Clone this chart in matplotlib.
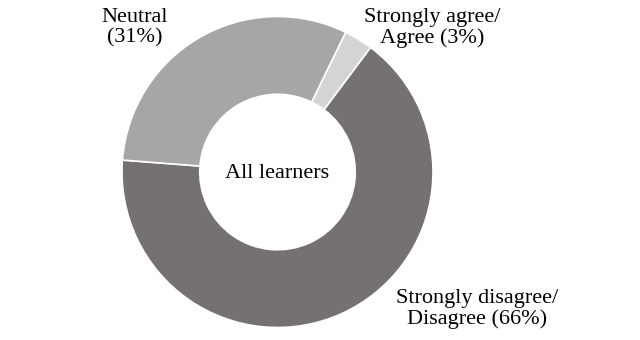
import matplotlib
matplotlib.use("Agg")
import matplotlib.pyplot as plt

# share of learners per response group (clockwise from the top right)
categories = ["Strongly agree/\nAgree", "Strongly disagree/\nDisagree", "Neutral\n"]
shares = [3, 66, 31]
colors = ["#d4d4d4", "#767171", "#a6a6a6"]

# where each label sits, in pie-radius units
label_pos = [(0.997, 0.926), (1.286, -0.881), (-0.916, 0.929)]

plt.rcParams['font.family'] = ['Liberation Serif', 'DejaVu Serif']

fig = plt.figure(figsize=(6.4, 3.4), dpi=100)
# square axes box, 311 px on a side, so the ring lands where the original sits
ax = fig.add_axes([122 / 640, 12.5 / 340, 311 / 640, 311 / 340])

ax.pie(shares, colors=colors, startangle=64, counterclock=False,
       wedgeprops=dict(width=0.5, edgecolor="white", linewidth=1.2))
ax.set_xlim(-1, 1)
ax.set_ylim(-1, 1)
ax.axis("off")

ax.text(0, -0.01, "All learners", ha="center", va="center", fontsize=16)
for cat, val, (x, y) in zip(categories, shares, label_pos):
    sep = "" if cat.endswith("\n") else " "
    ax.text(x, y, f"{cat}{sep}({val}%)", ha="center", va="center",
            fontsize=16, linespacing=1.1, clip_on=False)

fig.savefig("out.png", dpi=100)
